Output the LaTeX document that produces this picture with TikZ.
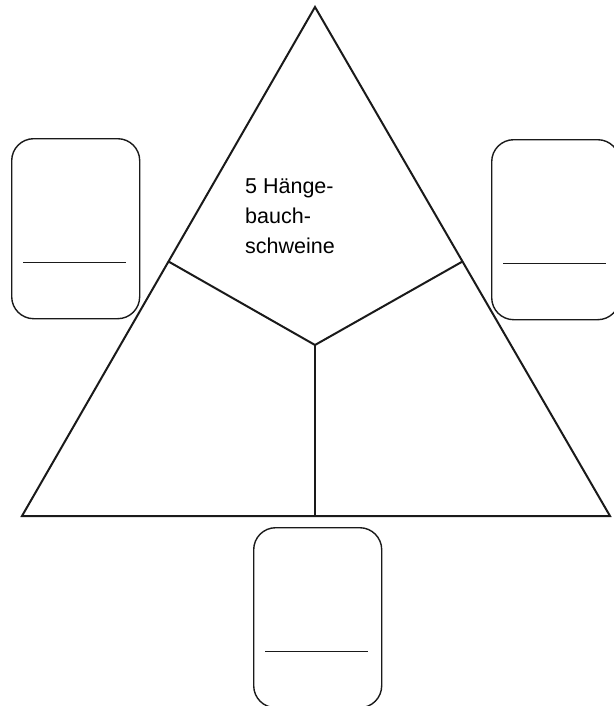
\documentclass[tikz,border=0pt]{standalone}
\usepackage{fontspec}
\setmainfont{Liberation Sans}
\usetikzlibrary{calc}
\definecolor{ink}{HTML}{1A1A1A}
\tikzset{triline/.style={draw=ink,line width=2pt,line join=miter},
 answerbox/.style={draw=ink,line width=1.4pt,rounded corners=22pt,minimum width=128pt,
 minimum height=180pt,inner sep=0pt},
 blankline/.style={draw=ink,line width=1.8pt},
 animaltext/.style={align=left,inner sep=0pt,font=\fontsize{21.5}{30}\selectfont}}

\begin{document}
\begin{tikzpicture}[x=1pt,y=-1pt]
\useasboundingbox (0,0) rectangle (613,706);
\coordinate (top) at (315,7);\coordinate (bl) at (22,516);\coordinate (br) at (610,516);
\coordinate (ctr) at (315,345);
\coordinate (lmid) at ($(top)!0.5!(bl)$);\coordinate (rmid) at ($(top)!0.5!(br)$);
\coordinate (bmid) at ($(bl)!0.5!(br)$);
\draw[triline] (top)--(bl)--(br)--cycle;
\draw[triline] (lmid)--(ctr);\draw[triline] (rmid)--(ctr);\draw[triline] (ctr)--(ctr|-bmid);
\node[animaltext,anchor=base west] (pigs) at (245,253) {5 Hänge-\\bauch-\\schweine};
\node[answerbox,anchor=north west] (lbox) at (11,138) {};
\node[answerbox,anchor=north west] (rbox) at (491,139) {};
\node[answerbox,anchor=north west] (bbox) at (253,527) {};
\draw[blankline] ([xshift=12pt,yshift=57pt]lbox.south west)--([xshift=-14pt,yshift=57pt]lbox.south east);
\draw[blankline] ([xshift=12pt,yshift=57pt]rbox.south west)--([xshift=-14pt,yshift=57pt]rbox.south east);
\draw[blankline] ([xshift=12pt,yshift=57pt]bbox.south west)--([xshift=-14pt,yshift=57pt]bbox.south east);
\end{tikzpicture}
\end{document}
